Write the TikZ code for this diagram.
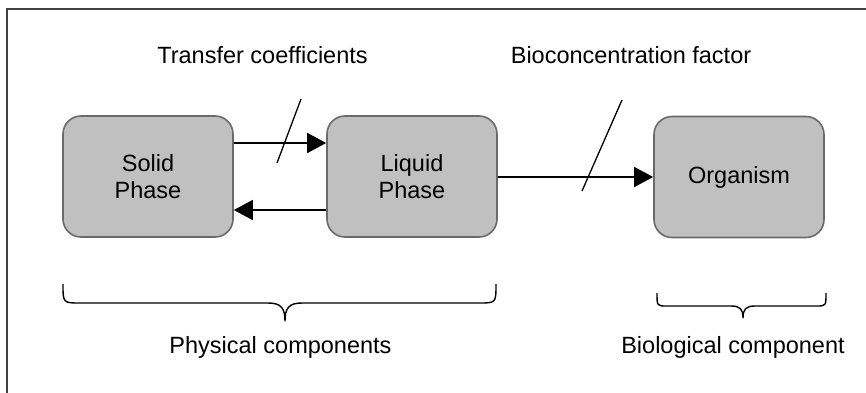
\documentclass[tikz,border=0pt]{standalone}
\usepackage{fontspec}
\setmainfont{Liberation Sans}
\usetikzlibrary{arrows.meta}
\definecolor{boxfill}{HTML}{C0C0C0}
\definecolor{boxedge}{HTML}{6A6A6A}
\definecolor{frameedge}{HTML}{404040}
\tikzset{
  phase/.style={draw=boxedge, line width=1.6pt, fill=boxfill, rounded corners=18pt,
    minimum width=170pt, minimum height=121pt, align=center, inner sep=0pt,
    font=\fontsize{23.5}{27}\selectfont},
  label/.style={anchor=base, inner sep=0pt, font=\fontsize{23.5}{27}\selectfont},
  flow/.style={line width=1.5pt, -{Triangle[length=19pt,width=20pt]}},
  slash/.style={line width=1.3pt},
  bracepath/.style={line width=1.4pt, line join=round}
}
\begin{document}
\begin{tikzpicture}[x=1pt,y=-1pt]
\useasboundingbox (0,0) rectangle (866,392);
% outer frame
\draw[frameedge, line width=1.8pt] (7,400) -- (7,9) -- (880,9);

% compartments
\node[phase] (solid)    at (148,176.5) {Solid\\Phase};
\node[phase] (liquid)   at (412,176.5) {Liquid\\Phase};
\node[phase] (organism) at (739,177)   {Organism};

% exchanges
\coordinate (t1) at (0,143);
\coordinate (t2) at (0,210);
\coordinate (t3) at (0,177);
\draw[flow] (solid.east |- t1) -- (liquid.west |- t1);
\draw[flow] (liquid.west |- t2) -- (solid.east |- t2);
\draw[flow] (liquid.east |- t3) -- (organism.west |- t3);

% parameter marks
\draw[slash] (301,99) -- (277,163);
\draw[slash] (622,100) -- (582,191);

\node[label] (tc)  at (262.5,63.3) {Transfer coefficients};
\node[label] (bcf) at (631,63.3)   {Bioconcentration factor};

% braces
\draw[bracepath] (63,284) .. controls (63,303) and (63,303) .. (80,303) -- (268,303)
  .. controls (281,303) and (285,308) .. (285,321)
  .. controls (285,308) and (289,303) .. (302,303) -- (479,303)
  .. controls (496,303) and (496,303) .. (496,284);
\draw[bracepath] (657,293) .. controls (657,306) and (657,306) .. (667,306) -- (731,306)
  .. controls (740,306) and (743,309) .. (743,318)
  .. controls (743,309) and (746,306) .. (755,306) -- (816,306)
  .. controls (826,306) and (826,306) .. (826,293);

\node[label] (phys) at (280.5,353) {Physical components};
\node[label] (bio)  at (733,353)   {Biological component};
\end{tikzpicture}
\end{document}
